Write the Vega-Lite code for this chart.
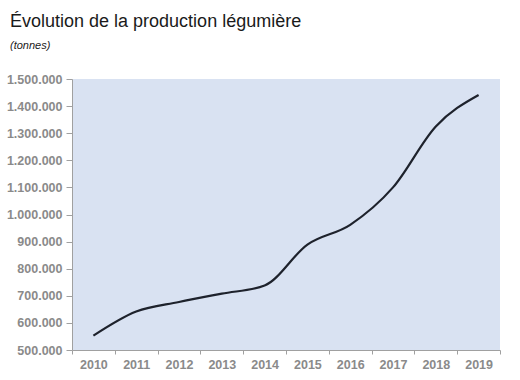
{
  "$schema": "https://vega.github.io/schema/vega-lite/v6.json",
  "width": 428,
  "height": 271,
  "autosize": {"type": "none"},
  "padding": {"left": 72, "top": 79, "right": 20, "bottom": 30},
  "background": "white",
  "title": {
    "text": "Évolution de la production légumière",
    "subtitle": "(tonnes)",
    "anchor": "start",
    "frame": "group",
    "dx": -62,
    "offset": 22,
    "font": "Liberation Sans",
    "fontSize": 18,
    "fontWeight": "normal",
    "color": "#1a1a1a",
    "subtitleFont": "Liberation Sans",
    "subtitleFontSize": 11,
    "subtitleFontStyle": "italic",
    "subtitleColor": "#1a1a1a",
    "subtitlePadding": 9
  },
  "config": {
    "locale": {"number": {"decimal": ",", "thousands": ".", "grouping": [3], "currency": ["", " €"]}},
    "view": {"fill": "#d9e2f2", "stroke": null},
    "axis": {
      "labelFont": "Liberation Sans",
      "labelFontSize": 12.5,
      "labelFontWeight": "bold",
      "labelColor": "#8a8a8a",
      "domainColor": "#a0a0a0",
      "tickColor": "#a0a0a0",
      "grid": false,
      "title": null
    }
  },
  "data": {
    "values": [
      {"year": "2010", "tonnes": 553000},
      {"year": "2011", "tonnes": 642000},
      {"year": "2012", "tonnes": 677000},
      {"year": "2013", "tonnes": 708000},
      {"year": "2014", "tonnes": 738000},
      {"year": "2015", "tonnes": 889000},
      {"year": "2016", "tonnes": 962000},
      {"year": "2017", "tonnes": 1100000},
      {"year": "2018", "tonnes": 1325000},
      {"year": "2019", "tonnes": 1441000}
    ]
  },
  "mark": {"type": "line", "interpolate": "monotone", "color": "#1e222c", "strokeWidth": 2.2},
  "encoding": {
    "x": {
      "field": "year",
      "type": "ordinal",
      "scale": {"type": "band", "paddingInner": 0, "paddingOuter": 0},
      "axis": {"labelAngle": 0, "tickBand": "extent", "tickSize": 4, "labelPadding": 4}
    },
    "y": {
      "field": "tonnes",
      "type": "quantitative",
      "scale": {"domain": [500000, 1500000], "nice": false},
      "axis": {"values": [500000, 600000, 700000, 800000, 900000, 1000000, 1100000, 1200000, 1300000, 1400000, 1500000], "format": ",d", "tickSize": 6, "labelPadding": 4}
    }
  }
}
